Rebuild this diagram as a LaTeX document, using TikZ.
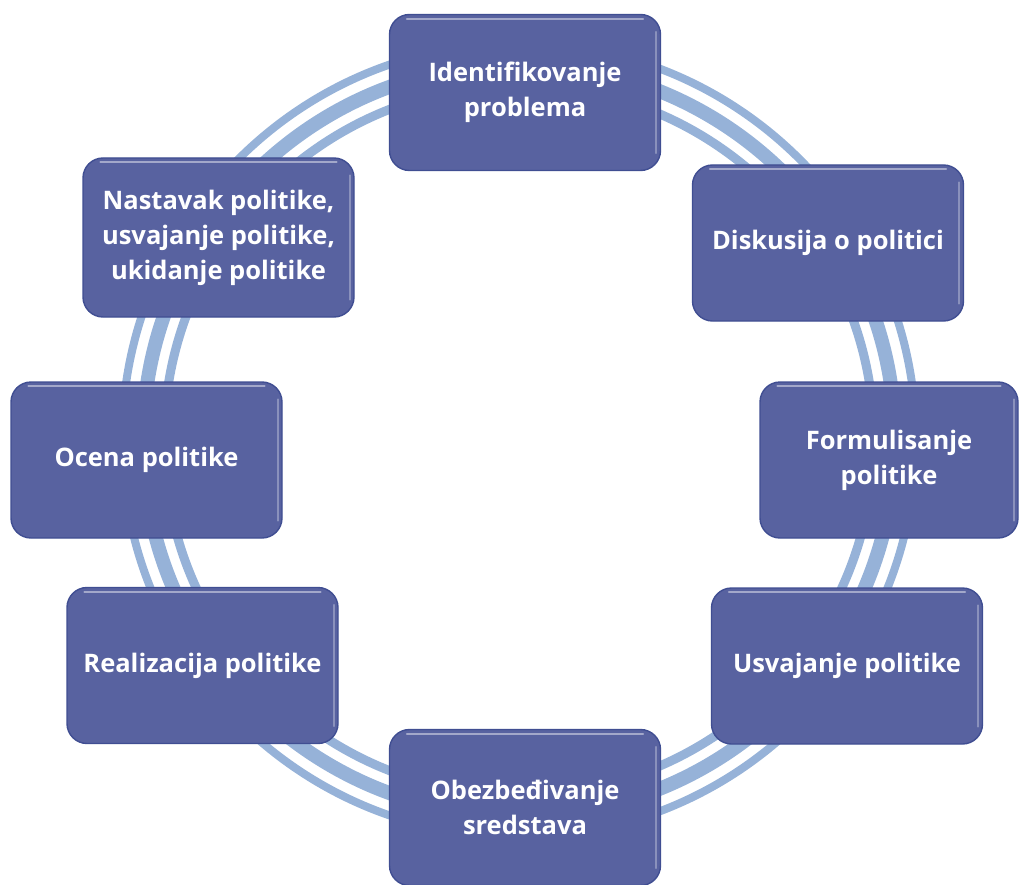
\documentclass[tikz,border=0pt]{standalone}
\usepackage{fontspec}
\setmainfont{Open Sans}
\usetikzlibrary{calc}
\definecolor{ringblue}{RGB}{150,178,216}
\definecolor{boxblue}{RGB}{88,98,160}
\definecolor{boxedge}{RGB}{64,78,146}
\begin{document}
\begin{tikzpicture}[x=1pt,y=-1pt,
  stage/.style={draw=boxedge, line width=1.4pt, fill=boxblue, rounded corners=20pt,
    minimum width=271pt, minimum height=156pt, inner sep=0pt, align=center,
    text=white, font=\bfseries\fontsize{25.5}{35}\selectfont},
  gloss/.style={white, opacity=.45, line width=2pt, line cap=round}]
\useasboundingbox (0,0) rectangle (1019,885);

% three concentric rings behind the stages
\coordinate (c) at (519,440);
\draw[ringblue, line width=8pt] (c) circle[radius=397];
\draw[ringblue, line width=14pt] (c) circle[radius=376];
\draw[ringblue, line width=9pt] (c) circle[radius=355];

% policy cycle stages
\node[stage] (identify) at (525,92.5) {Identifikovanje\\problema};
\node[stage] (discuss) at (828,243) {Diskusija o politici};
\node[stage, minimum width=258pt] (formulate) at (889,460) {Formulisanje\\politike};
\node[stage] (adopt) at (847,666) {Usvajanje politike};
\node[stage] (fund) at (525,807.5) {Obezbeđivanje\\sredstava};
\node[stage] (implement) at (202.5,665.5) {Realizacija politike};
\node[stage] (evaluate) at (146.5,460) {Ocena politike};
\node[stage, minimum height=159pt] (continue) at (218.5,237.5) {Nastavak politike,\\usvajanje politike,\\ukidanje politike};

% bevel highlights on each stage
\foreach \n in {identify,discuss,formulate,adopt,fund,implement,evaluate,continue}{
  \draw[gloss] ($(\n.north west)+(18,5)$) -- ($(\n.north east)+(-18,5)$);
  \draw[gloss, opacity=.3] ($(\n.north east)+(-5,18)$) -- ($(\n.south east)+(-5,-18)$);
}
\end{tikzpicture}
\end{document}
